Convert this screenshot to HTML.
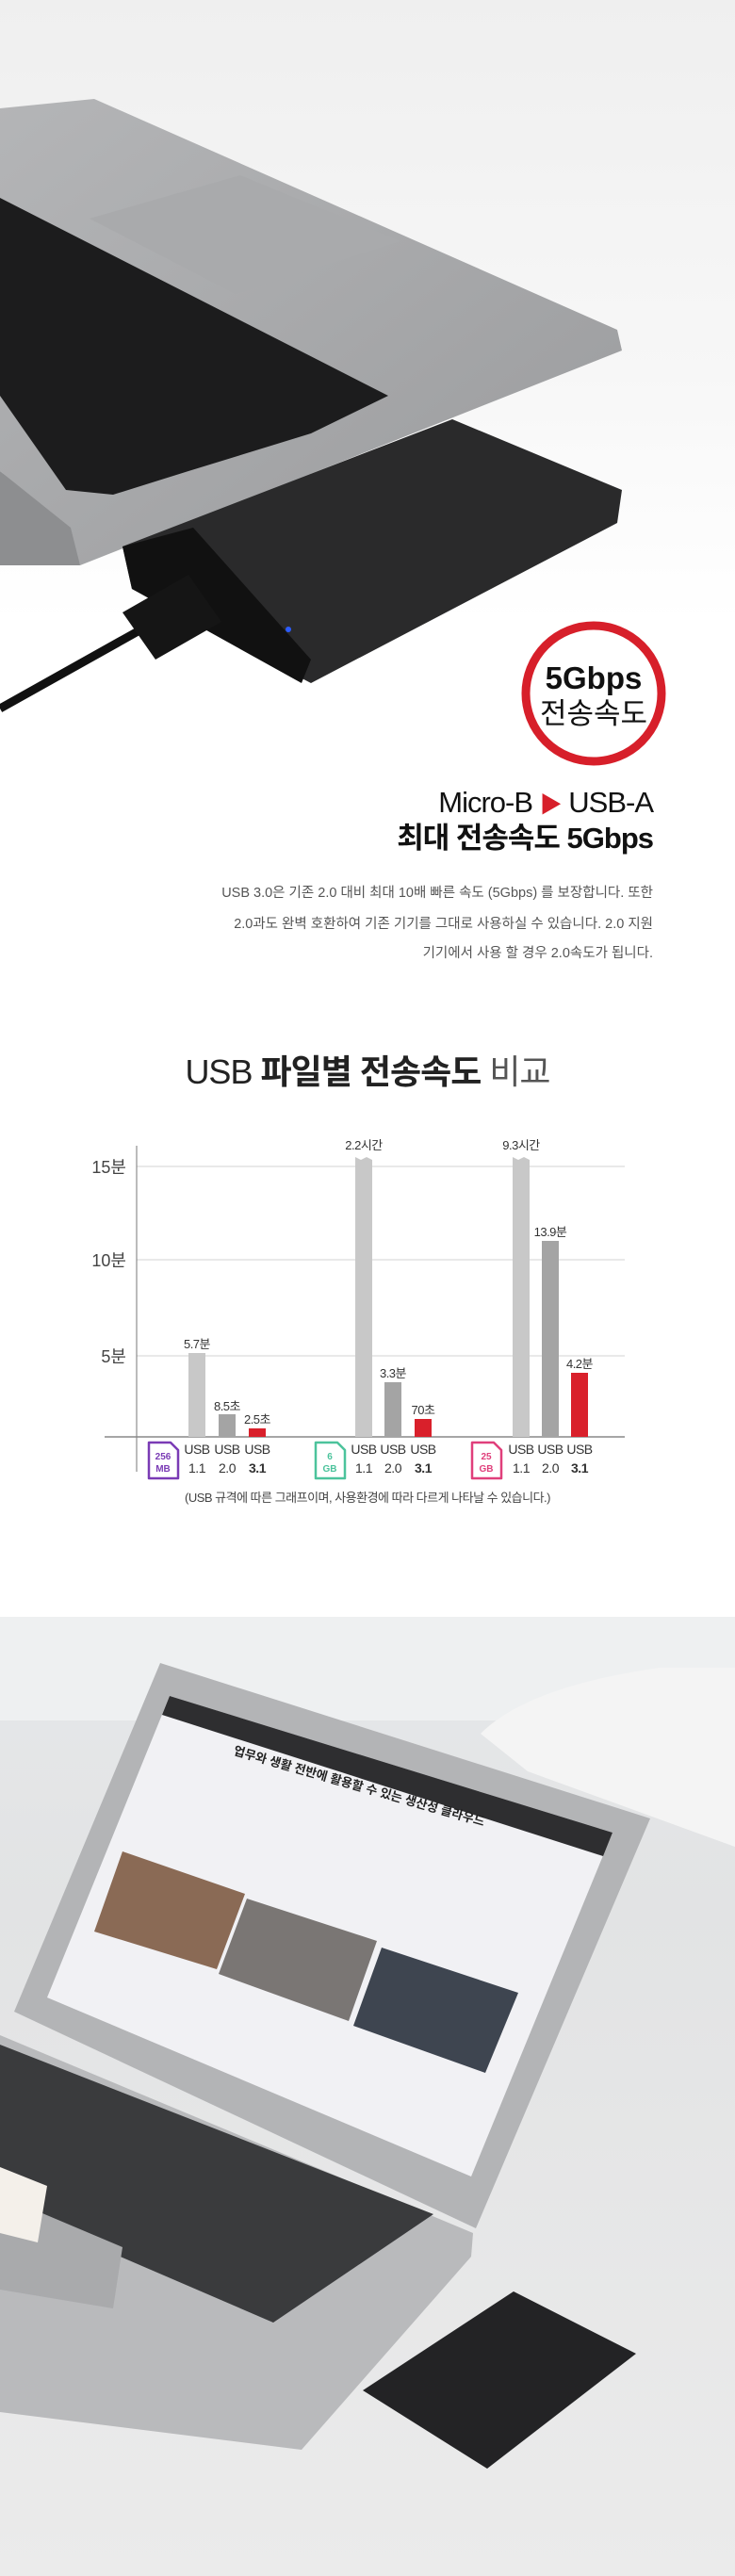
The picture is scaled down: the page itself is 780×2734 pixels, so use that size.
<!DOCTYPE html>
<html><head><meta charset="utf-8"><style>
html,body{margin:0;padding:0;background:#fff}
body{width:780px;height:2734px;overflow:hidden;position:relative;font-family:"Liberation Sans","Noto Sans CJK KR",sans-serif}
svg{position:absolute;left:0;top:0}
</style></head><body>
<svg width="780" height="2734" viewBox="0 0 780 2734" xmlns="http://www.w3.org/2000/svg" font-family="Liberation Sans, Noto Sans CJK KR, sans-serif">
<defs>
<linearGradient id="bgt" x1="0" y1="0" x2="0" y2="1"><stop offset="0" stop-color="#efefef"/><stop offset="0.6" stop-color="#f7f7f7"/><stop offset="1" stop-color="#fff"/></linearGradient>
<linearGradient id="silver" x1="0" y1="0" x2="1" y2="1"><stop offset="0" stop-color="#b4b5b7"/><stop offset="1" stop-color="#9a9b9d"/></linearGradient>
<linearGradient id="bgb" x1="0" y1="0" x2="0" y2="1"><stop offset="0" stop-color="#e6e8ea"/><stop offset="0.3" stop-color="#e2e3e4"/><stop offset="1" stop-color="#ebebeb"/></linearGradient>
</defs>
<!-- top photo -->
<rect x="0" y="0" width="780" height="660" fill="url(#bgt)"/>
<polygon points="0,500 80,560 85,600 0,600" fill="#8d8e90"/>
<polygon points="0,115 100,105 655,350 660,372 85,600 75,560 0,500" fill="url(#silver)"/>
<polygon points="95,232 255,186 425,256 250,312" fill="#a9aaac"/>
<polygon points="0,210 412,420 330,460 200,500 120,525 70,520 0,420" fill="#1c1c1d"/>
<polygon points="130,580 480,445 660,520 655,555 330,725 140,625" fill="#2a2a2b"/>
<polygon points="130,580 205,560 330,700 320,725 140,625" fill="#111"/>
<circle cx="306" cy="668" r="3" fill="#2c5cff"/>
<line x1="0" y1="752" x2="150" y2="668" stroke="#111" stroke-width="9"/>
<polygon points="130,650 200,610 235,660 165,700" fill="#151515"/>
<!-- circle badge -->
<circle cx="630" cy="736" r="72" fill="#fff" stroke="#d71f2a" stroke-width="9"/>
<text x="630" y="731" text-anchor="middle" font-size="33" font-weight="bold" fill="#111">5Gbps</text>
<text x="630" y="768" text-anchor="middle" font-size="31" fill="#111">전송속도</text>
<!-- headings -->
<text x="693" y="862" text-anchor="end" font-size="31" fill="#111" letter-spacing="-1">Micro-B <tspan fill="#d71f2a" font-size="24">▶</tspan> USB-A</text>
<text x="693" y="900" text-anchor="end" font-size="31" font-weight="bold" fill="#111" letter-spacing="-1">최대 전송속도 5Gbps</text>
<g font-size="14.5" fill="#555" text-anchor="end">
<text x="693" y="952">USB 3.0은 기존 2.0 대비 최대 10배 빠른 속도 (5Gbps) 를 보장합니다. 또한</text>
<text x="693" y="985">2.0과도 완벽 호환하여 기존 기기를 그대로 사용하실 수 있습니다. 2.0 지원</text>
<text x="693" y="1016">기기에서 사용 할 경우 2.0속도가 됩니다.</text>
</g>
<!-- chart title -->
<text x="390" y="1150" text-anchor="middle" font-size="36" fill="#222" letter-spacing="-1"><tspan font-weight="300">USB </tspan><tspan font-weight="bold">파일별 전송속도</tspan><tspan fill="#555"> 비교</tspan></text>
<!-- grid -->
<g stroke="#e2e2e2" stroke-width="1.5">
<line x1="145" y1="1238" x2="663" y2="1238"/>
<line x1="145" y1="1337" x2="663" y2="1337"/>
<line x1="145" y1="1439" x2="663" y2="1439"/>
</g>
<line x1="145" y1="1216" x2="145" y2="1562" stroke="#777" stroke-width="1"/>
<line x1="111" y1="1525" x2="663" y2="1525" stroke="#888" stroke-width="1.5"/>
<g font-size="18" fill="#444" text-anchor="end">
<text x="134" y="1245">15분</text><text x="134" y="1344">10분</text><text x="134" y="1446">5분</text>
</g>
<!-- bars -->
<rect x="200" y="1436" width="18" height="89" fill="#c8c8c8"/>
<rect x="232" y="1501" width="18" height="24" fill="#a4a4a4"/>
<rect x="264" y="1516" width="18" height="9" fill="#d9202b"/>
<polygon points="377,1228 383,1231 389,1228 395,1231 395,1525 377,1525" fill="#c8c8c8"/>
<rect x="408" y="1467" width="18" height="58" fill="#a4a4a4"/>
<rect x="440" y="1506" width="18" height="19" fill="#d9202b"/>
<polygon points="544,1228 550,1231 556,1228 562,1231 562,1525 544,1525" fill="#c8c8c8"/>
<rect x="575" y="1317" width="18" height="208" fill="#a4a4a4"/>
<rect x="606" y="1457" width="18" height="68" fill="#d9202b"/>
<g font-size="13" fill="#333" text-anchor="middle" letter-spacing="-0.5">
<text x="209" y="1431">5.7분</text><text x="241" y="1497">8.5초</text><text x="273" y="1511">2.5초</text>
<text x="386" y="1220">2.2시간</text><text x="417" y="1462">3.3분</text><text x="449" y="1501">70초</text>
<text x="553" y="1220">9.3시간</text><text x="584" y="1312">13.9분</text><text x="615" y="1452">4.2분</text>
</g>
<g font-size="14" fill="#333" text-anchor="middle" letter-spacing="-0.5">
<text x="209" y="1543">USB</text><text x="241" y="1543">USB</text><text x="273" y="1543">USB</text>
<text x="209" y="1563">1.1</text><text x="241" y="1563">2.0</text><text x="273" y="1563" font-weight="bold">3.1</text>
<text x="386" y="1543">USB</text><text x="417" y="1543">USB</text><text x="449" y="1543">USB</text>
<text x="386" y="1563">1.1</text><text x="417" y="1563">2.0</text><text x="449" y="1563" font-weight="bold">3.1</text>
<text x="553" y="1543">USB</text><text x="584" y="1543">USB</text><text x="615" y="1543">USB</text>
<text x="553" y="1563">1.1</text><text x="584" y="1563">2.0</text><text x="615" y="1563" font-weight="bold">3.1</text>
</g>
<!-- file icons -->
<g fill="#fff" stroke-width="2.5" stroke-linejoin="round">
<path d="M158,1531 L181,1531 L189,1539 L189,1569 L158,1569 Z" stroke="#7a3bb5"/>
<path d="M335,1531 L358,1531 L366,1539 L366,1569 L335,1569 Z" stroke="#4cc39c"/>
<path d="M501,1531 L524,1531 L532,1539 L532,1569 L501,1569 Z" stroke="#e03f7b"/>
</g>
<g font-size="10" text-anchor="middle" font-weight="bold">
<text x="173" y="1549" fill="#7a3bb5">256</text><text x="173" y="1562" fill="#7a3bb5">MB</text>
<text x="350" y="1549" fill="#4cc39c">6</text><text x="350" y="1562" fill="#4cc39c">GB</text>
<text x="516" y="1549" fill="#e03f7b">25</text><text x="516" y="1562" fill="#e03f7b">GB</text>
</g>
<text x="390" y="1594" text-anchor="middle" font-size="13" fill="#444" letter-spacing="-0.5">(USB 규격에 따른 그래프이며, 사용환경에 따라 다르게 나타날 수 있습니다.)</text>
<!-- bottom photo -->
<rect x="0" y="1716" width="780" height="1018" fill="url(#bgb)"/>
<rect x="0" y="1716" width="780" height="110" fill="#eef0f1"/>
<path d="M510,1840 Q560,1790 700,1770 L780,1770 L780,1960 L560,1880 Z" fill="#f4f4f4"/>
<!-- laptop base -->
<polygon points="0,2160 502,2370 500,2395 320,2600 0,2560" fill="#b9babc"/>
<polygon points="0,2170 460,2350 290,2465 0,2340" fill="#3a3b3d"/>
<polygon points="0,2330 130,2385 120,2450 0,2430" fill="#a9aaac"/>
<!-- screen -->
<polygon points="170,1765 690,1930 505,2365 15,2135" fill="#b3b4b6"/>
<polygon points="180,1800 650,1945 500,2310 50,2120" fill="#f1f1f4"/>
<polygon points="180,1800 650,1945 640,1970 172,1820" fill="#2e2e30"/>
<text x="380" y="1900" font-size="13" font-weight="bold" fill="#222" transform="rotate(16 380 1900)" text-anchor="middle">업무와 생활 전반에 활용할 수 있는 생산성 클라우드</text>
<polygon points="130,1965 260,2010 230,2090 100,2050" fill="#8a6a55"/>
<polygon points="262,2015 400,2060 370,2145 232,2095" fill="#7a7674"/>
<polygon points="405,2067 550,2115 515,2200 375,2150" fill="#3e4550"/>
<polygon points="0,2300 50,2320 40,2380 0,2370" fill="#f4f0ea"/>
<!-- hdd -->
<polygon points="385,2537 545,2432 675,2498 517,2620" fill="#232325"/>
</svg>
</body></html>
